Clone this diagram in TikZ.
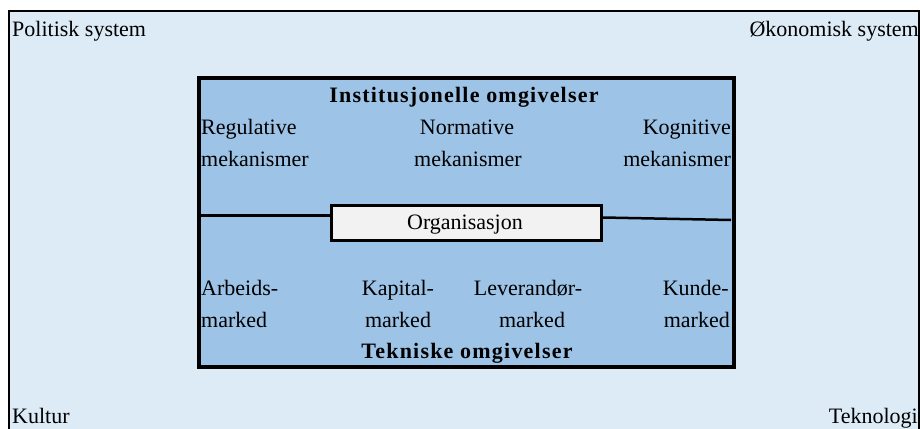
\documentclass[tikz,border=0pt]{standalone}
\usepackage{fontspec}
\setmainfont{Liberation Serif}
\newfontfamily\widebold[LetterSpace=5.5]{Liberation Serif}
\definecolor{outerbg}{HTML}{DDEBF7}
\definecolor{innerbg}{HTML}{9DC3E6}
\definecolor{orgbg}{HTML}{F2F2F2}
\begin{document}
\begin{tikzpicture}[x=1pt,y=-1pt,
  txt/.style={inner sep=0pt,font=\fontsize{22}{26}\selectfont},
  btxt/.style={inner sep=0pt,font=\widebold\fontsize{22}{26}\selectfont\bfseries},
  link/.style={line width=2.5pt}]
\useasboundingbox (0,0) rectangle (920,428);
\fill[white] (0,0) rectangle (920,428);
\clip (0,0) rectangle (920,428);
% outer environment
\draw[fill=outerbg,line width=2pt] (9,11) rectangle (919,440);
% inner box
\node[draw,line width=3.5pt,fill=innerbg,minimum width=535pt,minimum height=289pt,inner sep=0pt,anchor=north west] (inner) at (197,76) {};
% organisation
\node[draw,line width=3pt,fill=orgbg,minimum width=270pt,minimum height=35pt,inner sep=0pt,anchor=north west] (org) at (330,204) {};
\node[txt,anchor=base] (orgt) at (465,229) {Organisasjon};
\coordinate (lL) at (198,215.5);
\coordinate (rR) at (731,220);
\draw[link] (lL) -- (lL -| org.west);
\draw[link] (org.east |- 0,217.5) -- (rR);
% corner labels
\node[txt,anchor=base west] (pol) at (12,37) {Politisk system};
\node[txt,anchor=base east] (oko) at (919,37) {Økonomisk system};
\node[txt,anchor=base west] (kul) at (12,423) {Kultur};
\node[txt,anchor=base east] (tek) at (918,423) {Teknologi};
% institutional
\node[btxt,anchor=base] (inst) at (464,102) {Institusjonelle omgivelser};
\node[txt,anchor=base west] (reg1) at (201,134) {Regulative};
\node[txt,anchor=base west] (reg2) at (201,166) {mekanismer};
\node[txt,anchor=base] (nor1) at (467,134) {Normative};
\node[txt,anchor=base] (nor2) at (468,166) {mekanismer};
\node[txt,anchor=base east] (kog1) at (731,134) {Kognitive};
\node[txt,anchor=base east] (kog2) at (731,166) {mekanismer};
% technical
\node[txt,anchor=base west] (arb1) at (201,295) {Arbeids-};
\node[txt,anchor=base west] (arb2) at (201,327) {marked};
\node[txt,anchor=base] (kap1) at (398,295) {Kapital-};
\node[txt,anchor=base] (kap2) at (398,327) {marked};
\node[txt,anchor=base] (lev1) at (528,295) {Leverandør-};
\node[txt,anchor=base] (lev2) at (532,327) {marked};
\node[txt,anchor=base east] (kun1) at (729,295) {Kunde-};
\node[txt,anchor=base east] (kun2) at (730,327) {marked};
\node[btxt,anchor=base] (tekn) at (467,358) {Tekniske omgivelser};
\end{tikzpicture}
\end{document}
